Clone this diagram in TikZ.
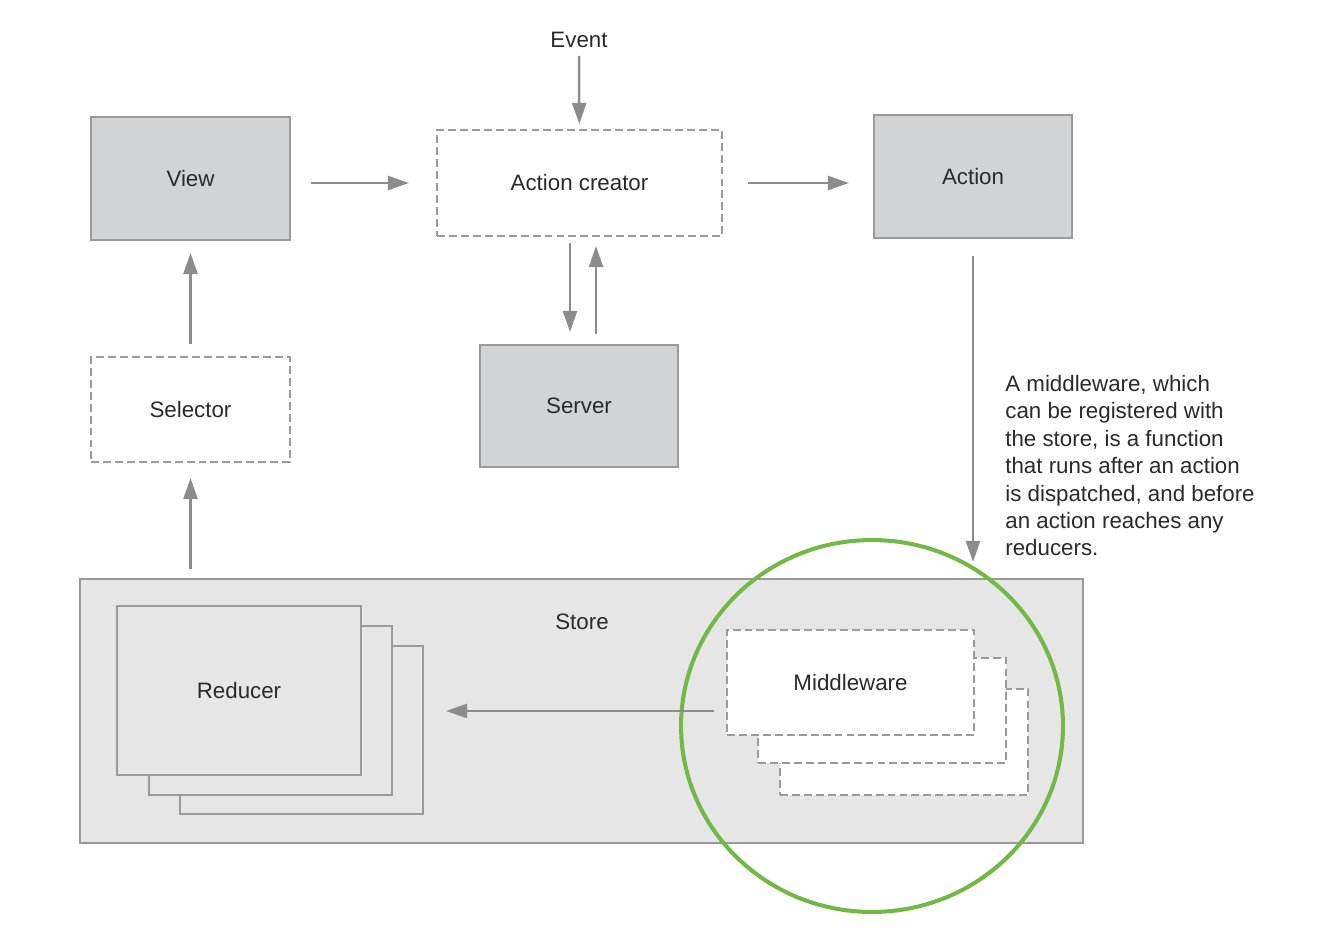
\documentclass[tikz,border=0pt]{standalone}
\usepackage{fontspec}
\setmainfont{Liberation Sans}
\usetikzlibrary{arrows.meta}
\definecolor{boxgray}{HTML}{D2D3D4}
\definecolor{storegray}{HTML}{E6E6E6}
\definecolor{linegray}{HTML}{9A9A9A}
\definecolor{arrowgray}{HTML}{8C8C8C}
\definecolor{textgray}{HTML}{2A2A2A}
\definecolor{ringgreen}{HTML}{72B844}
\tikzset{
  boxsize/.style 2 args={minimum width=#1, minimum height=#2, inner sep=0pt},
  solidbox/.style={draw=linegray, line width=1.2pt, fill=boxgray},
  dashbox/.style={draw=linegray, line width=1.2pt, fill=white, dash pattern=on 4.5pt off 2.3pt},
  storebox/.style={draw=linegray, line width=1.2pt, fill=storegray},
  flow/.style={draw=arrowgray, line width=1.4pt, -{Triangle[length=0.42cm, width=0.28cm]}},
  ring/.style={draw=ringgreen, line width=2.3pt}
}

\begin{document}
\begin{tikzpicture}[x=0.02cm, y=-0.02cm, every node/.style={font=\fontsize{12.7}{15.6}\selectfont, text=textgray}]
    \useasboundingbox (0,0) rectangle (1324,946);
    % top row
    \node (event) at (579,40) {Event};
    \node[solidbox, boxsize={3.98cm}{2.46cm}] (view) at (190.5,178.5) {View};
    \node[dashbox, boxsize={5.7cm}{2.12cm}] (creator) at (579.5,183) {Action creator};
    \node[solidbox, boxsize={3.96cm}{2.46cm}] (action) at (973,176.5) {Action};
    \node[solidbox, boxsize={3.96cm}{2.44cm}] (server) at (579,406) {Server};
    \node[dashbox, boxsize={3.98cm}{2.1cm}] (selector) at (190.5,409.5) {Selector};
    % store
    \node[storebox, boxsize={20.06cm}{5.28cm}] (store) at (581.5,711) {};
    \node (storelabel) at (582,622) {Store};
    \node[storebox, boxsize={4.86cm}{3.36cm}] (reducer3) at (301.5,730) {};
    \node[storebox, boxsize={4.86cm}{3.38cm}] (reducer2) at (270.5,710.5) {};
    \node[storebox, boxsize={4.88cm}{3.38cm}] (reducer) at (239,690.5) {Reducer};
    \node[dashbox, boxsize={4.96cm}{2.12cm}] (middleware3) at (904,742) {};
    \node[dashbox, boxsize={4.96cm}{2.1cm}] (middleware2) at (882,710.5) {};
    \node[dashbox, boxsize={4.94cm}{2.1cm}] (middleware) at (850.5,682.5) {Middleware};
    \draw[ring] (872,726) ellipse [x radius=3.82cm, y radius=3.72cm];
    \node[anchor=north west, align=left, inner sep=0pt] (note) at (1005,375) {A middleware, which\\can be registered with\\the store, is a function\\that runs after an action\\is dispatched, and before\\an action reaches any\\reducers.};
    % arrows
    \draw[flow, shorten <=0.04cm, shorten >=0.1cm] (event) -- (creator);
    \draw[flow, shorten <=0.4cm, shorten >=0.54cm] (view.east |- creator) -- (creator);
    \draw[flow, shorten <=0.5cm, shorten >=0.48cm] (creator) -- (action.west |- creator);
    \draw[flow, shorten <=0.12cm, shorten >=0.24cm] ([xshift=-0.19cm]creator.south) -- ([xshift=-0.19cm]creator.south |- server.north);
    \draw[flow, shorten <=0.2cm, shorten >=0.18cm] ([xshift=0.34cm]server.north) -- ([xshift=0.34cm]server.north |- creator.south);
    \draw[flow, shorten <=0.34cm, shorten >=0.32cm] (action) -- (action |- store.north);
    \draw[flow, shorten <=0.24cm, shorten >=0.24cm] (selector) -- (view);
    \draw[flow, shorten <=0.18cm, shorten >=0.3cm] (selector |- store.north) -- (selector);
    \draw[flow, shorten <=0.24cm, shorten >=0.44cm] (middleware.west |- store) -- (reducer3.east |- store);
\end{tikzpicture}
\end{document}
